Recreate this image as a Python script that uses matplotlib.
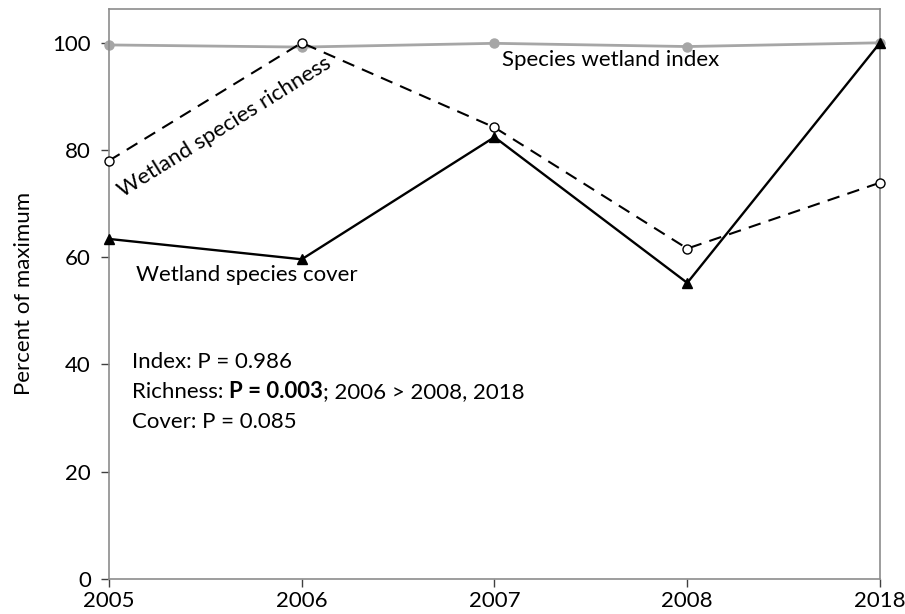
import matplotlib
matplotlib.use("Agg")
import matplotlib.pyplot as plt

plt.rcParams['font.family'] = ['Lato', 'DejaVu Sans']

years = ["2005", "2006", "2007", "2008", "2018"]
index_vals = [99.6, 99.2, 99.9, 99.3, 100.0]
richness_vals = [78.0, 100.0, 84.2, 61.6, 73.9]
cover_vals = [63.4, 59.6, 82.4, 55.2, 100.0]
yticks = [0, 20, 40, 60, 80, 100]

x = list(range(len(years)))

fig = plt.figure(figsize=(9.05, 6.14), dpi=100)
ax = fig.add_axes([0.1204, 0.0575, 0.852, 0.9278])

ax.plot(x, index_vals, color='#a6a6a6', lw=2.0, marker='o', ms=6.5,
        mfc='#a6a6a6', mec='#a6a6a6', zorder=2, clip_on=False)
ax.plot(x, richness_vals, color='black', lw=1.5, ls=(0, (6, 4)), marker='o', ms=6.5,
        mfc='white', mec='black', mew=1.0, zorder=3, clip_on=False)
ax.plot(x, cover_vals, color='black', lw=1.7, marker='^', ms=6.5,
        mfc='black', mec='black', zorder=4, clip_on=False)

ax.set_xlim(0, len(years) - 1)
ax.set_ylim(0, 106.3)
ax.set_xticks(x)
ax.set_xticklabels(years)
ax.set_yticks(yticks)
ax.tick_params(axis='both', labelsize=16, colors='#404040', labelcolor='black',
               direction='out', length=6, width=1)
ax.tick_params(axis='x', pad=3)
ax.tick_params(axis='y', pad=7)
for s in ax.spines.values():
    s.set_color('#8c8c8c')
    s.set_linewidth(1.2)

ax.set_ylabel("Percent of maximum", fontsize=16, labelpad=13)

fs = 16
ax.text(2.037, 96.7, "Species wetland index", fontsize=fs, ha='left', va='center')
ax.text(0.60, 84.2, "Wetland species richness", fontsize=fs, ha='center', va='center',
        rotation=32, rotation_mode='anchor')
ax.text(0.14, 56.7, "Wetland species cover", fontsize=fs, ha='left', va='center')

ax.text(0.118, 40.5, "Index: P = 0.986", fontsize=fs, ha='left', va='center')
t1 = ax.text(0.118, 34.9, "Richness: ", fontsize=fs, ha='left', va='center')
fig.canvas.draw()
t2 = ax.annotate("P = 0.003", xycoords=t1, xy=(1, 0.5), va='center', ha='left',
                 fontsize=fs, fontweight='bold')
fig.canvas.draw()
ax.annotate("; 2006 > 2008, 2018", xycoords=t2, xy=(1, 0.5), va='center', ha='left',
            fontsize=fs)
ax.text(0.118, 29.3, "Cover: P = 0.085", fontsize=fs, ha='left', va='center')

fig.savefig("out.png", dpi=100)
